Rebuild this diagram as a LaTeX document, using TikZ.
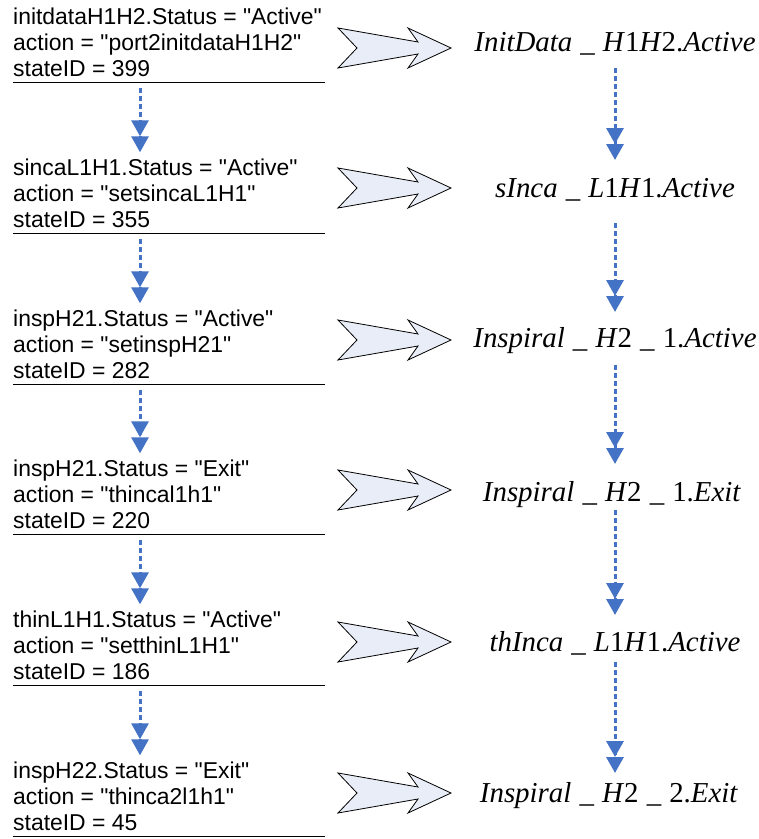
\documentclass[tikz,border=0pt]{standalone}
\usepackage{fontspec}
\setmainfont{Liberation Serif}
\setsansfont{Liberation Sans}[Ligatures=TeXOff]
\usetikzlibrary{arrows.meta,calc}
\definecolor{flowblue}{HTML}{4472C4}
\definecolor{arrowfill}{HTML}{E8EDF7}

% three-line record: condition, action and state number
\newcommand{\infoblock}[3]{\begin{tabular}[t]{@{}l@{}}#1\\#2\\#3\end{tabular}}
% italic state name with upright digits and separators
\newcommand{\sep}{\hspace{0.28em}\_\hspace{0.28em}}

\begin{document}
\begin{tikzpicture}[x=1bp,y=-1bp,
  info/.style={anchor=base west, inner sep=0pt,
    font=\sffamily\fontsize{23}{26.5}\selectfont},
  state/.style={anchor=base, inner sep=0pt, font=\fontsize{29}{32}\selectfont},
  flow/.style={flowblue, line width=3bp, dash pattern=on 5bp off 3bp,
    -{Triangle[length=16bp,width=17bp,sep=0pt]Triangle[length=16bp,width=17bp]}},
  rule/.style={line width=1bp, black},
  fatarrow/.pic={
    \draw[fill=arrowfill, line width=0.8bp, line join=miter]
      (-57,-20) -- (-38,0) -- (-57,20) -- (23,6) -- (13,20) -- (56,0)
      -- (13,-20) -- (23,-6) -- cycle;}
]
\useasboundingbox (0,0) rectangle (759,839);

% left column: records
\node[info] (L1) at (13,24)  {\infoblock{initdataH1H2.Status = "Active"}{action = "port2initdataH1H2"}{stateID = 399}};
\node[info] (L2) at (13,175) {\infoblock{sincaL1H1.Status = "Active"}{action = "setsincaL1H1"}{stateID = 355}};
\node[info] (L3) at (13,326) {\infoblock{inspH21.Status = "Active"}{action = "setinspH21"}{stateID = 282}};
\node[info] (L4) at (13,476) {\infoblock{inspH21.Status = "Exit"}{action = "thincal1h1"}{stateID = 220}};
\node[info] (L5) at (13,627) {\infoblock{thinL1H1.Status = "Active"}{action = "setthinL1H1"}{stateID = 186}};
\node[info] (L6) at (13,778) {\infoblock{inspH22.Status = "Exit"}{action = "thinca2l1h1"}{stateID = 45}};

% underlines below each record
\foreach \y [count=\i] in {82,233,384,534,685,836} {
  \draw[rule] (13,\y) -- (325,\y);
  \coordinate (u\i) at (140,\y);
}

% right column: state names
\node[state] (R1) at (615,51)  {\textit{InitData}\sep\textit{H}1\textit{H}2.\textit{Active}};
\node[state] (R2) at (615,197) {\textit{sInca}\sep\textit{L}1\textit{H}1.\textit{Active}};
\node[state] (R3) at (615,347) {\textit{Inspiral}\sep\textit{H}2\sep1.\textit{Active}};
\node[state] (R4) at (612,501) {\textit{Inspiral}\sep\textit{H}2\sep1.\textit{Exit}};
\node[state] (R5) at (615,651) {\textit{thInca}\sep\textit{L}1\textit{H}1.\textit{Active}};
\node[state] (R6) at (609,802) {\textit{Inspiral}\sep\textit{H}2\sep2.\textit{Exit}};

% block arrows mapping records to states
\pic at (395,48)  {fatarrow};
\pic at (395,188) {fatarrow};
\pic at (395,340) {fatarrow};
\pic at (395,490) {fatarrow};
\pic at (395,642) {fatarrow};
\pic at (395,793) {fatarrow};

% left sequence
\foreach \a/\b in {1/2,2/3,3/4,4/5,5/6}
  \draw[flow] ($(u\a)+(0,6)$) -- ($(u\a |- L\b.north)+(0,-4)$);

% right sequence
\draw[flow] ($(R1.base -| 615,0)+(0,17)$) -- ($(R2.base -| 615,0)+(0,-37)$);
\draw[flow] ($(R2.base -| 615,0)+(0,26)$) -- ($(R3.base -| 615,0)+(0,-35)$);
\draw[flow] ($(R3.base -| 615,0)+(0,18)$) -- ($(R4.base -| 615,0)+(0,-37)$);
\draw[flow] ($(R4.base -| 615,0)+(0,9)$)  -- ($(R5.base -| 615,0)+(0,-36)$);
\draw[flow] ($(R5.base -| 615,0)+(0,11)$) -- ($(R6.base -| 615,0)+(0,-29)$);
\end{tikzpicture}
\end{document}
